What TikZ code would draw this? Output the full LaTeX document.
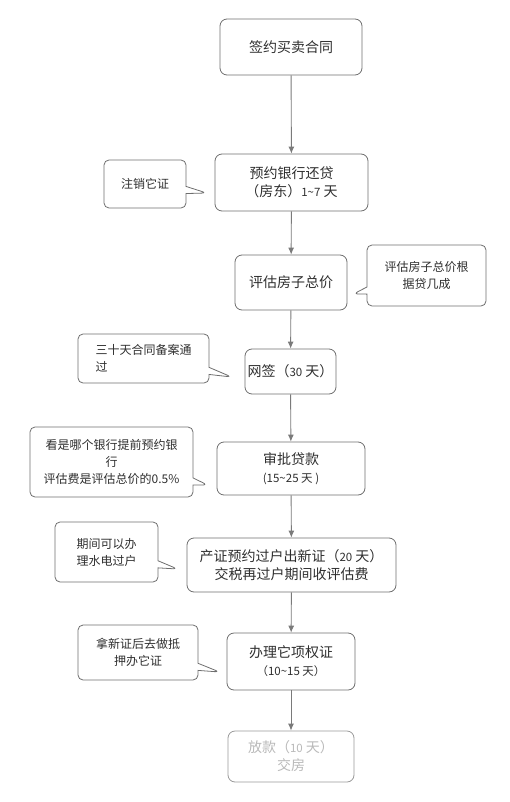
\documentclass[tikz,border=0pt]{standalone}
\usepackage{fontspec}
\setmainfont{Noto Sans CJK SC}
\usetikzlibrary{shapes.callouts,calc,arrows.meta}
\definecolor{boxgray}{HTML}{6E6E6E}
\definecolor{arrowgray}{HTML}{7A7A7A}
\definecolor{textgray}{HTML}{2E2E2E}

\begin{document}
\begin{tikzpicture}[x=1pt,y=-1pt,
  box/.style={draw=boxgray, line width=0.8pt, rounded corners=7pt, align=center,
    font=\fontsize{14}{18}\selectfont, text=textgray, inner sep=0pt},
  note/.style={rectangle callout, draw=boxgray, line width=0.8pt, rounded corners=5pt,
    align=center, font=\fontsize{12}{17}\selectfont, text=textgray, inner sep=0pt},
  flow/.style={draw=arrowgray, line width=0.9pt, -{Latex[length=7pt,width=6pt]}}]
\useasboundingbox (0,0) rectangle (510,802);
\node[box, minimum width=142pt, minimum height=56pt] (s1) at (291,47) {签约买卖合同};
\node[box, minimum width=153pt, minimum height=57pt] (s2) at (291.5,182.5) {预约银行还贷\\（房东）{\fontsize{11.5}{16}\selectfont 1\textasciitilde7} 天};
\node[box, minimum width=112pt, minimum height=55pt] (s3) at (291,282.5) {评估房子总价};
\node[box, minimum width=91pt, minimum height=45pt] (s4) at (290.5,371.5) {网签（{\fontsize{11.5}{16}\selectfont 30} 天）};
\node[box, minimum width=148pt, minimum height=53pt] (s5) at (291,468.5) {审批贷款\\{\fontsize{11.5}{16}\selectfont (15\textasciitilde25 天 )}};
\node[box, minimum width=209pt, minimum height=54pt] (s6) at (291.5,565) {产证预约过户出新证（{\fontsize{11.5}{16}\selectfont 20} 天）\\交税再过户期间收评估费};
\node[box, minimum width=128pt, minimum height=57pt] (s7) at (291,661.5) {办理它项权证\\{\fontsize{11.5}{16}\selectfont （10\textasciitilde15 天）}};
\node[box, draw=boxgray!70, text=gray!55, minimum width=126pt, minimum height=51pt] (s8) at (291,756.5) {放款（{\fontsize{11.5}{16}\selectfont 10} 天）\\交房};

\node[note, minimum width=82pt, minimum height=48pt, callout absolute pointer={($(s2.west)+(-8,10.5)$)}] (n1) at (145,184) {注销它证};
\node[note, minimum width=119pt, minimum height=61pt, callout absolute pointer={($(s3.east)+(6,11.5)$)}] (n2) at (426.5,275.5) {评估房子总价根\\据贷几成};
\node[note, align=left, minimum width=131pt, minimum height=49pt, callout absolute pointer={($(s4.west)+(-13,5.5)$)}] (n3) at (143.5,358.5) {三十天合同备案通\\过};
\node[note, minimum width=163pt, minimum height=70pt, callout absolute pointer={($(s5.west)+(-9,16.5)$)}] (n4) at (111.5,462) {看是哪个银行提前预约银\\行\\评估费是评估总价的0.5\%};
\node[note, minimum width=103pt, minimum height=60pt, callout absolute pointer={($(s6.west)+(-9,4)$)}] (n5) at (106.5,552) {期间可以办\\理水电过户};
\node[note, minimum width=120pt, minimum height=55pt, callout absolute pointer={($(s7.west)+(-7,10.5)$)}] (n6) at (138,652.5) {拿新证后去做抵\\押办它证};

\draw[flow] (s1) -- (s2);
\draw[flow] (s2) -- (s3);
\draw[flow] (s3) -- (s4);
\draw[flow] (s4) -- (s5);
\draw[flow] (s5) -- (s6);
\draw[flow] (s6) -- (s7);
\draw[flow] (s7) -- (s8);
\end{tikzpicture}
\end{document}
